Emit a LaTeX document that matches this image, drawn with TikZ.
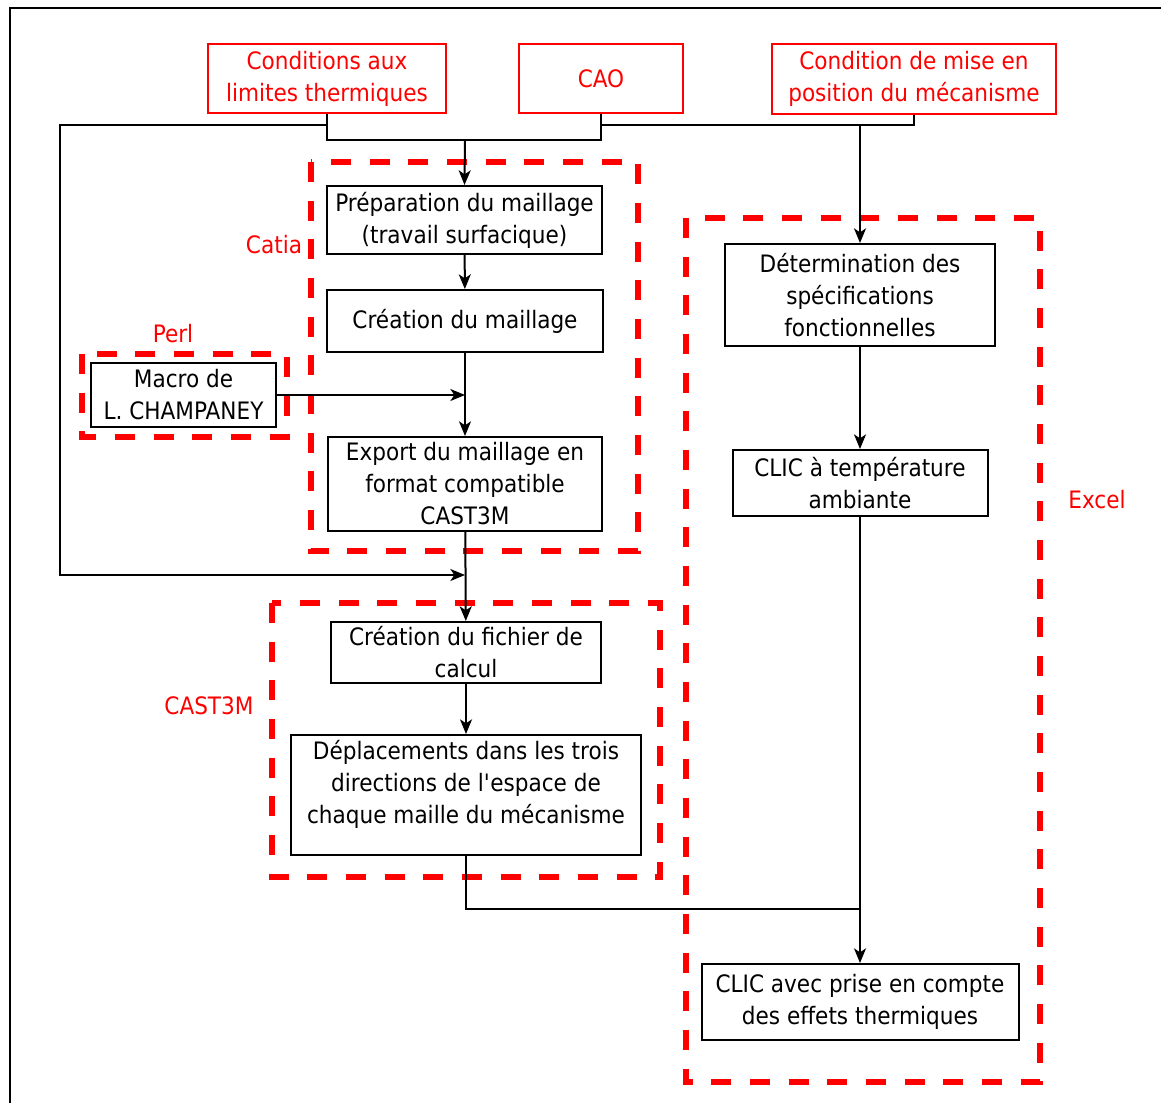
\documentclass[tikz,border=0pt]{standalone}
\usepackage{fontspec}
\setmainfont{DejaVu Sans}[FakeStretch=0.9]
\usetikzlibrary{arrows.meta}
\definecolor{PureRed}{HTML}{FF0000}
\tikzstyle{input} = [rectangle, draw=PureRed, line width=1.5pt, text=PureRed, align=center, inner sep=0pt]
\tikzstyle{process} = [rectangle, draw=black, line width=1.5pt, align=center, inner sep=0pt]
\tikzstyle{group} = [draw=PureRed, line width=4pt, dash pattern=on 15pt off 14pt]
\tikzstyle{tool} = [text=PureRed, inner sep=0pt]
\tikzstyle{arrow} = [line width=1.5pt, -{Stealth[length=11pt, width=9pt, inset=3pt]}]
\tikzstyle{link} = [line width=1.5pt]

\begin{document}
\begin{tikzpicture}[x=0.75pt, y=-0.75pt, font=\fontsize{18}{24}\selectfont]

\useasboundingbox (0,0) rectangle (1161,1103);
\draw [line width=1pt] (10,1103) -- (10,8) -- (1161,8);

% software groups
\draw [group] (311,162) rectangle (638,551);
\draw [group] (82,354) rectangle (287,437);
\draw [group] (272,603) rectangle (660,877);
\draw [group] (686,218) rectangle (1040,1082);

\node (catia) [tool] at (274,245) {Catia};
\node (perl) [tool] at (173,334) {Perl};
\node (cast) [tool] at (209,706) {CAST3M};
\node (excel) [tool] at (1097,500) {Excel};

% inputs
\node (cond) [input, minimum width=178.5pt, minimum height=51.75pt] at (327,78.5) {Conditions aux\\limites thermiques};
\node (cao) [input, minimum width=123pt, minimum height=51.75pt] at (601,78.5) {CAO};
\node (pos) [input, minimum width=213pt, minimum height=52.5pt] at (914,79) {Condition de mise en\\position du mécanisme};

% Catia / Perl
\node (prep) [process, minimum width=206.25pt, minimum height=51pt] at (464.5,220) {Préparation du maillage\\(travail surfacique)};
\node (mesh) [process, minimum width=207pt, minimum height=46.5pt] at (465,321) {Création du maillage};
\node (export) [process, minimum width=205.5pt, minimum height=70.5pt] at (465,484) {Export du maillage en\\format compatible\\CAST3M};
\node (macro) [process, minimum width=138.75pt, minimum height=48pt] at (183.5,395) {Macro de\\L. CHAMPANEY};

% CAST3M
\node (file) [process, minimum width=202.5pt, minimum height=45.75pt] at (466,652.5) {Création du fichier de\\calcul};
\node (disp) [process, minimum width=262.5pt, minimum height=90pt, text depth=20pt] at (466,795) {Déplacements dans les trois\\directions de l\textquotesingle espace de\\chaque maille du mécanisme};

% Excel
\node (spec) [process, minimum width=202.5pt, minimum height=76.5pt] at (860,295) {Détermination des\\spécifications\\fonctionnelles};
\node (amb) [process, minimum width=191.25pt, minimum height=49.5pt] at (860,483) {CLIC à température\\ambiante};
\node (therm) [process, minimum width=237.75pt, minimum height=57pt] at (860,1002) {CLIC avec prise en compte\\des effets thermiques};

\coordinate (meet) at (465,140);
\coordinate (bypass) at (60,125);
\coordinate (mergeA) at (465,575);
\coordinate (split) at (860,125);
\coordinate (mergeB) at (860,909);

\draw [link] (cond.south) |- (meet);
\draw [link] (cao.south) |- (meet);
\draw [arrow] (meet) -- (prep.north);
\draw [arrow] (cond.south |- bypass) -- (bypass) |- (mergeA);
\draw [link] (cao.south |- split) -| (pos.south);
\draw [arrow] (split) -- (spec.north);

\draw [arrow] (prep) -- (mesh);
\draw [arrow] (mesh) -- (export);
\draw [arrow] (macro.east) -- (mesh.south |- macro.east);
\draw [arrow] (export) -- (file);
\draw [arrow] (file) -- (disp);

\draw [arrow] (spec) -- (amb);
\draw [arrow] (amb) -- (therm);
\draw [link] (disp.south) |- (mergeB);

\end{tikzpicture}
\end{document}
